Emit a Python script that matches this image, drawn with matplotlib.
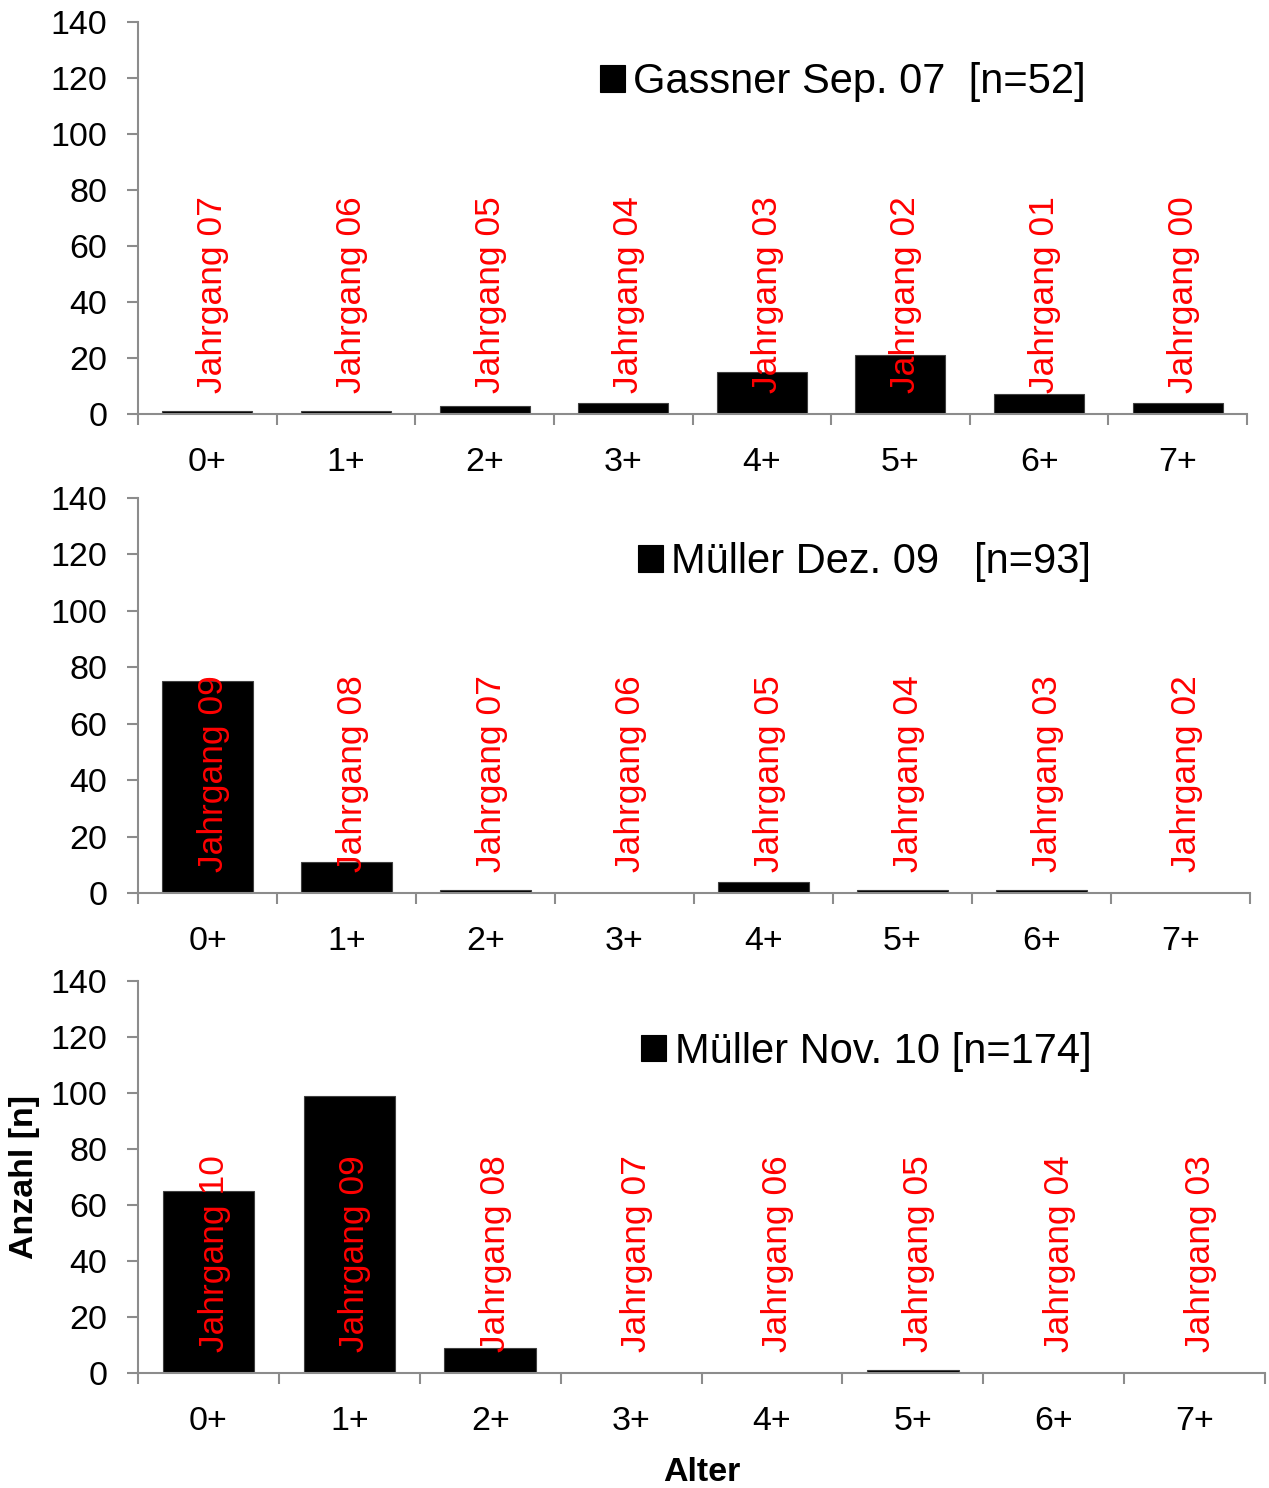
import matplotlib
matplotlib.use('Agg')
import matplotlib.pyplot as plt

plt.rcParams['font.family'] = ['Liberation Sans', 'DejaVu Sans']

# ── Daten ─────────────────────────────────────────────────────────────────────
alter = ['0+', '1+', '2+', '3+', '4+', '5+', '6+', '7+']

gassner_sep07 = [1, 1, 3, 4, 15, 21, 7, 4]
mueller_dez09 = [75, 11, 1, 0, 4, 1, 1, 0]
mueller_nov10 = [65, 99, 9, 0, 0, 1, 0, 0]

jahrgang_sep07 = ['Jahrgang 07', 'Jahrgang 06', 'Jahrgang 05', 'Jahrgang 04',
                  'Jahrgang 03', 'Jahrgang 02', 'Jahrgang 01', 'Jahrgang 00']
jahrgang_dez09 = ['Jahrgang 09', 'Jahrgang 08', 'Jahrgang 07', 'Jahrgang 06',
                  'Jahrgang 05', 'Jahrgang 04', 'Jahrgang 03', 'Jahrgang 02']
jahrgang_nov10 = ['Jahrgang 10', 'Jahrgang 09', 'Jahrgang 08', 'Jahrgang 07',
                  'Jahrgang 06', 'Jahrgang 05', 'Jahrgang 04', 'Jahrgang 03']

labels = ['Gassner Sep. 07  [n=52]', 'Müller Dez. 09   [n=93]', 'Müller Nov. 10 [n=174]']

C_AXIS = '#8C8C8C'

# ── Layout (Pixel aus Referenz) ───────────────────────────────────────────────
W, H = 1269, 1488
fig = plt.figure(figsize=(W / 100, H / 100), dpi=100)

boxes = [  # x0, x1, y_top, y_bottom in px
    (138, 1247, 22, 414),
    (138, 1250, 498, 893),
    (138, 1265, 981, 1373),
]
leg_pos = [(0.855, 0.847), (0.857, 0.838), (0.846, 0.819)]

series = [gassner_sep07, mueller_dez09, mueller_nov10]
jahrg = [jahrgang_sep07, jahrgang_dez09, jahrgang_nov10]

x = list(range(len(alter)))
axes = []
for i, (x0, x1, yt, yb) in enumerate(boxes):
    ax = fig.add_axes([x0 / W, 1 - yb / H, (x1 - x0) / W, (yb - yt) / H])
    axes.append(ax)
    ax.bar(x, series[i], width=0.65, color='black', edgecolor='#404040',
           linewidth=0.8, label=labels[i], zorder=2)
    for xi, t in zip(x, jahrg[i]):
        ax.text(xi + 0.04, 7.5, t, rotation=90, color='red', fontsize=25.5,
                ha='center', va='bottom', zorder=3)
    ax.set_xlim(-0.5, len(alter) - 0.5)
    ax.set_ylim(0, 140)
    ax.set_yticks(range(0, 141, 20))
    ax.set_xticks(x)
    ax.set_xticklabels(alter)
    ax.set_xticks([k - 0.5 for k in range(len(alter) + 1)], minor=True)
    ax.tick_params(axis='x', which='major', length=0, pad=24, labelsize=24.5)
    ax.tick_params(axis='x', which='minor', length=8, width=1.5, color=C_AXIS,
                   direction='out')
    ax.tick_params(axis='y', length=8, width=1.5, color=C_AXIS, labelsize=24.5,
                   pad=14)
    for s in ['top', 'right']:
        ax.spines[s].set_visible(False)
    for s in ['left', 'bottom']:
        ax.spines[s].set_color(C_AXIS)
        ax.spines[s].set_linewidth(1.5)
    leg = ax.legend(loc='center right', bbox_to_anchor=leg_pos[i], frameon=False,
                    fontsize=30, handlelength=0.6, handleheight=0.6,
                    handletextpad=0.2, borderpad=0, borderaxespad=0)
    for h in leg.legend_handles:
        h.set_edgecolor('black')

axes[2].set_xlabel('Alter', fontsize=24.5, fontweight='bold', labelpad=14)
fig.text(25 / W, 1 - 1177 / H, 'Anzahl [n]', rotation=90, fontsize=24.5,
         fontweight='bold', ha='center', va='center')

fig.savefig('out.png', dpi=100, facecolor='white')
